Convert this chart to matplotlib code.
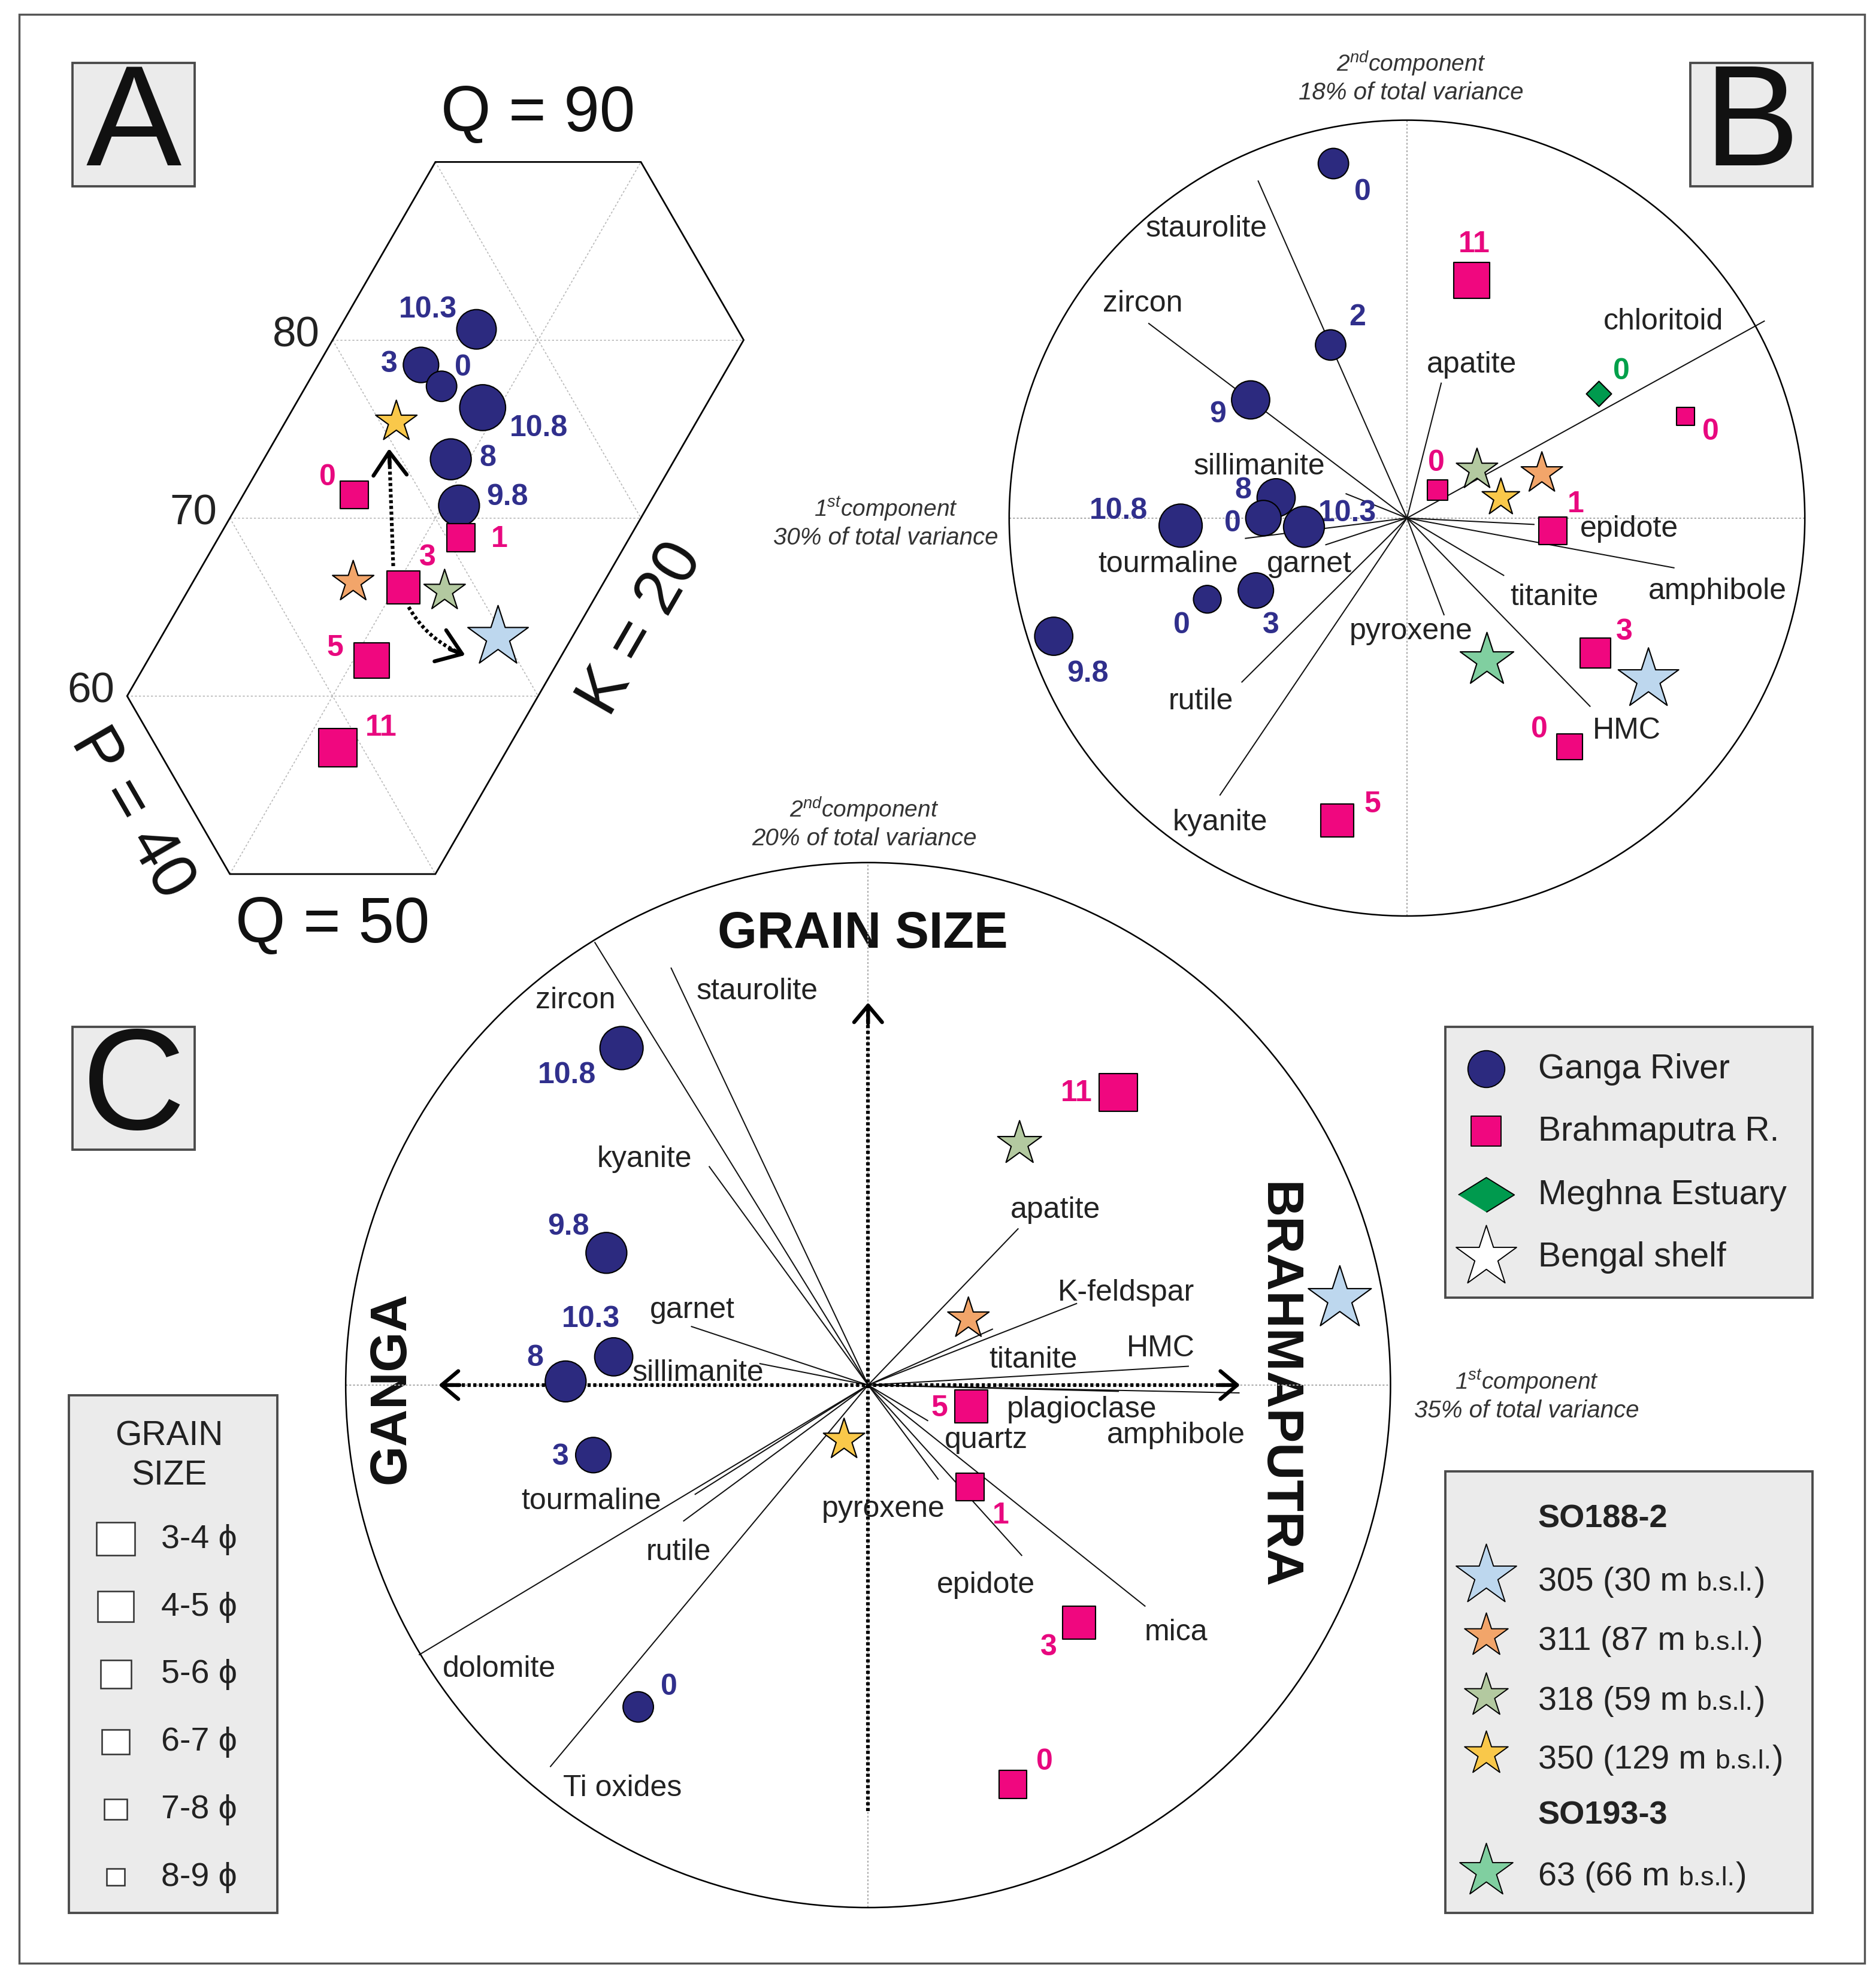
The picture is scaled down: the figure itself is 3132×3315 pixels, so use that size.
import numpy as np
import matplotlib
matplotlib.use('Agg')
import matplotlib.pyplot as plt
from matplotlib.patches import Rectangle, Circle, Polygon

plt.rcParams['font.family'] = ['Liberation Sans', 'DejaVu Sans']
plt.rcParams['mathtext.fontset'] = 'custom'
plt.rcParams['mathtext.rm'] = 'Liberation Sans'
plt.rcParams['mathtext.it'] = 'Liberation Sans:italic'
plt.rcParams['mathtext.bf'] = 'Liberation Sans:bold'

# ---------------- data ----------------
shelf_names = ['305', '311', '318', '350', '63']

# A: Q-K-P composition (%), grain size in phi
ganga_A_lab = ['10.3', '3', '0', '10.8', '8', '9.8']
ganga_A_Q = [80.6, 78.6, 77.4, 76.2, 73.3, 70.7]
ganga_A_K = [6.7, 5.0, 6.6, 9.2, 9.1, 10.8]
ganga_A_phi = [4.2, 5.1, 6.2, 2.8, 3.9, 3.9]
brahma_A_lab = ['0', '1', '3', '5', '11']
brahma_A_Q = [71.3, 68.9, 66.1, 62.0, 57.1]
brahma_A_K = [5.4, 11.8, 10.4, 10.9, 11.7]
brahma_A_phi = [6.0, 6.0, 4.75, 4.1, 3.5]
shelf_A_Q = [63.3, 66.4, 65.9, 75.4]
shelf_A_K = [16.4, 7.8, 12.5, 5.4]
shelf_A_phi = [3.4, 6.4, 6.4, 6.4]

# B: PCA biplot (PC1 30 %, PC2 18 %)
B_minerals = ['staurolite', 'zircon', 'sillimanite', 'tourmaline', 'garnet', 'rutile',
              'kyanite', 'pyroxene', 'HMC', 'titanite', 'amphibole', 'epidote',
              'chloritoid', 'apatite']
B_load_x = [-0.374, -0.649, -0.153, -0.406, -0.204, -0.415, -0.470, 0.093, 0.460,
            0.243, 0.671, 0.319, 0.898, 0.086]
B_load_y = [0.847, 0.489, 0.061, -0.051, -0.067, -0.412, -0.696, -0.243, -0.473,
            -0.144, -0.125, -0.016, 0.495, 0.339]
ganga_B_lab = ['0', '2', '9', '8', '0', '10.3', '10.8', '0', '3', '9.8']
ganga_B_x = [-0.185, -0.192, -0.393, -0.329, -0.361, -0.259, -0.569, -0.502, -0.380, -0.888]
ganga_B_y = [0.891, 0.435, 0.297, 0.051, 0.000, -0.022, -0.019, -0.204, -0.182, -0.297]
ganga_B_phi = [6.2, 6.2, 4.5, 4.5, 5.1, 3.9, 3.4, 6.8, 5.1, 4.5]
brahma_B_lab = ['11', '0', '0', '1', '3', '0', '5']
brahma_B_x = [0.163, 0.700, 0.077, 0.367, 0.473, 0.409, -0.176]
brahma_B_y = [0.597, 0.256, 0.070, -0.032, -0.339, -0.575, -0.760]
brahma_B_phi = [4.1, 8.5, 7.9, 6.0, 5.4, 6.6, 4.75]
meghna_B_lab = ['0']
meghna_B_x = [0.482]
meghna_B_y = [0.313]
shelf_B_x = [0.607, 0.339, 0.176, 0.236, 0.201]
shelf_B_y = [-0.406, 0.112, 0.121, 0.051, -0.358]
shelf_B_phi = [3.4, 6.4, 6.4, 7.0, 4.5]

# C: PCA biplot (PC1 35 %, PC2 20 %)
C_minerals = ['zircon', 'staurolite', 'kyanite', 'garnet', 'sillimanite', 'tourmaline',
              'rutile', 'dolomite', 'Ti oxides', 'pyroxene', 'quartz', 'plagioclase',
              'epidote', 'mica', 'amphibole', 'HMC', 'titanite', 'K-feldspar', 'apatite']
C_load_x = [-0.523, -0.377, -0.304, -0.338, -0.207, -0.331, -0.353, -0.859, -0.608,
            0.134, 0.114, 0.479, 0.294, 0.530, 0.710, 0.613, 0.238, 0.399, 0.287]
C_load_y = [0.847, 0.798, 0.418, 0.112, 0.041, -0.209, -0.260, -0.516, -0.730,
            -0.180, -0.068, -0.012, -0.326, -0.423, -0.015, 0.036, 0.107, 0.156, 0.299]
ganga_C_lab = ['10.8', '9.8', '10.3', '8', '3', '0']
ganga_C_x = [-0.472, -0.501, -0.487, -0.579, -0.526, -0.440]
ganga_C_y = [0.645, 0.253, 0.054, 0.007, -0.134, -0.616]
ganga_C_phi = [3.4, 3.9, 4.5, 3.9, 5.1, 6.2]
brahma_C_lab = ['11', '5', '1', '3', '0']
brahma_C_x = [0.479, 0.197, 0.195, 0.404, 0.277]
brahma_C_y = [0.560, -0.041, -0.195, -0.455, -0.764]
brahma_C_phi = [3.5, 4.75, 6.0, 4.75, 6.0]
shelf_C_x = [0.903, 0.192, 0.290, -0.046]
shelf_C_y = [0.165, 0.127, 0.462, -0.105]
shelf_C_phi = [3.0, 6.4, 6.0, 6.4]

grain_classes = ['3-4', '4-5', '5-6', '6-7', '7-8', '8-9']
shelf_depth = ['305 (30 m', '311 (87 m', '318 (59 m', '350 (129 m', '63 (66 m']

# ---------------- style ----------------
NAVY, NAVY_T = '#2c2a7f', '#302f8c'
PINK, PINK_T = '#f0077f', '#e8087f'
GREEN, GREEN_T = '#009a4e', '#00a04a'
STAR_C = {'305': '#bdd7ee', '311': '#f2a56a', '318': '#b3c9a0', '350': '#f9c84a', '63': '#80cfa0'}
BOXF, BOXE = '#ebebeb', '#4a4a4a'

DPX = 3132 / 1476          # output pixels per layout unit
PT = DPX * 72 / 100        # points per layout unit
W, H = 1476, 3316 / DPX


def pt(d):
    return d * PT


def side(phi):              # square side (layout units) for a grain size
    return 30 - 3.2 * (np.asarray(phi) - 3.5)


fig = plt.figure(figsize=(31.32, 33.16), dpi=100)
lay = fig.add_axes([0, 0, 1, 1])
lay.set_xlim(0, W)
lay.set_ylim(H, 0)
lay.axis('off')


def overlay(px, py, dx, dy, k):
    ax = fig.add_axes([0, 0, 1, 1])
    ax.set_xlim(dx - px / k, dx + (W - px) / k)
    ax.set_ylim(dy - (H - py) / k, dy + py / k)
    ax.axis('off')
    ax.patch.set_alpha(0)
    return ax


def box(x0, y0, x1, y1, fc=BOXF, lw=1.8):
    lay.add_patch(Rectangle((x0, y0), x1 - x0, y1 - y0, fc=fc, ec=BOXE, lw=pt(lw)))


def num_labels(ax, xs, ys, labs, offs, color):
    for x, y, s, (dx, dy) in zip(xs, ys, labs, offs):
        ax.annotate(s, (x, y), xytext=(pt(dx), pt(dy)), textcoords='offset points',
                    ha='center', va='center', fontsize=36, fontweight='bold', color=color)


def draw_points(ax, xs, ys, phi, marker, color, f=1.0, z=5):
    ax.scatter(xs, ys, s=pt(side(phi) * f) ** 2, marker=marker, c=color,
               edgecolors='k', linewidths=pt(1.0), zorder=z)


def chevron(ax, tip, direction, length, hl, hw):
    tip = np.asarray(tip, float)
    ax.annotate('', xy=tip, xytext=tip - length * np.asarray(direction, float),
                arrowprops=dict(arrowstyle=f'->,head_length={hl},head_width={hw}', color='k',
                                lw=pt(3.0), mutation_scale=40, shrinkA=0, shrinkB=0), zorder=3)


DOT = dict(color='k', lw=pt(2.9), ls=(0, (0.85, 0.7)), zorder=3)
MIN_FS = 36

# outer frame
lay.add_patch(Rectangle((15, 12), 1452, 1533, fc='none', ec='#555555', lw=pt(1.6)))

# panel letters
for (x0, y0), s in zip([(57, 50), (1330, 50), (57, 808)], ['A', 'B', 'C']):
    box(x0, y0, x0 + 96, y0 + 97)
    lay.text(x0 + 48, y0 + 51, s, ha='center', va='center', fontsize=172, color='#111111')

# ---------------- panel A ----------------
axA = overlay(100, 548, 30, 30 * np.sqrt(3), 16.17)


def tern(Q, K):
    Q = np.asarray(Q, float)
    K = np.asarray(K, float)
    return K + Q / 2, Q * np.sqrt(3) / 2


gcol = '#b8b8b8'
for q in (60, 70, 80):
    axA.plot(*tern([q, q], [0, 20]), color=gcol, lw=1.2, ls=(0, (2, 2)), zorder=1)
axA.plot(*tern([50, 90], [10, 10]), color=gcol, lw=1.2, ls=(0, (2, 2)), zorder=1)
for p in (10, 20, 30):
    axA.plot(*tern([100 - p, 80 - p], [0, 20]), color=gcol, lw=1.2, ls=(0, (2, 2)), zorder=1)
hx, hy = tern([90, 90, 80, 50, 50, 60], [0, 10, 20, 20, 10, 0])
axA.add_patch(Polygon(np.column_stack([hx, hy]), closed=True, fc='none', ec='k', lw=pt(1.3), zorder=2))

for q in (80, 70, 60):
    axA.annotate(str(q), tern(q, 0), xytext=(pt(-10), pt(4)), textcoords='offset points',
                 ha='right', va='center', fontsize=51, color='#222222')
axA.annotate('Q = 90', tern(90, 5), xytext=(0, pt(38)), textcoords='offset points',
             ha='center', va='center', fontsize=77, color='#111111')
axA.annotate('Q = 50', tern(50, 15), xytext=(0, pt(-40)), textcoords='offset points',
             ha='center', va='center', fontsize=77, color='#111111')
axA.annotate('K = 20', tern(65, 20), xytext=(pt(41), pt(-17)), textcoords='offset points',
             ha='center', va='center', fontsize=77, rotation=60, color='#111111')
axA.annotate('P = 40', tern(55, 5), xytext=(pt(-37), pt(-22)), textcoords='offset points',
             ha='center', va='center', fontsize=77, rotation=-60, color='#111111')

# dotted trend arrows (quadratic curves)
for (q0, k0, q1, k1, rad) in [(67.3, 9.3, 73.9, 5.8, 0.0), (65.0, 11.2, 62.3, 15.3, 0.18)]:
    p0 = np.array(tern(q0, k0))
    p1 = np.array(tern(q1, k1))
    d = p1 - p0
    ctrl = (p0 + p1) / 2 + rad * np.array([d[1], -d[0]])
    t = np.linspace(0, 0.93, 40)[:, None]
    curve = (1 - t) ** 2 * p0 + 2 * (1 - t) * t * ctrl + t ** 2 * p1
    axA.plot(curve[:, 0], curve[:, 1], **DOT)
    tan = (p1 - ctrl) / np.linalg.norm(p1 - ctrl)
    chevron(axA, p1, tan, 0.8, 0.7, 0.5)

gx, gy = tern(ganga_A_Q, ganga_A_K)
draw_points(axA, gx, gy, ganga_A_phi, 'o', NAVY, 1.12)
num_labels(axA, gx, gy, ganga_A_lab, [(-38, 16), (-25, 1), (17, 15), (44, -16), (29, 1), (38, 7)], NAVY_T)
bx, by = tern(brahma_A_Q, brahma_A_K)
draw_points(axA, bx, by, brahma_A_phi, 's', PINK)
num_labels(axA, bx, by, brahma_A_lab, [(-21, 14), (30, -1), (19, 24), (-29, 10), (34, 16)], PINK_T)
sx, sy = tern(shelf_A_Q, shelf_A_K)
draw_points(axA, sx, sy, shelf_A_phi, '*', [STAR_C[n] for n in shelf_names[:4]], 1.65, 6)


# ---------------- biplots ----------------
def biplot_frame(ax):
    ax.add_patch(Circle((0, 0), 1, fc='none', ec='k', lw=pt(1.2), zorder=2))
    ax.plot([-1, 1], [0, 0], color='#aaaaaa', lw=1.5, ls=(0, (1.5, 1.5)), zorder=1)
    ax.plot([0, 0], [-1, 1], color='#aaaaaa', lw=1.5, ls=(0, (1.5, 1.5)), zorder=1)


def loadings(ax, xs, ys, names, label_xy):
    for x, y, n, (lx, ly) in zip(xs, ys, names, label_xy):
        ax.plot([0, x], [0, y], color='#111111', lw=pt(0.95), zorder=3)
        ax.text(lx, ly, n, ha='center', va='center', fontsize=MIN_FS, color='#222222', zorder=4)


# panel B
axB = overlay(1107, 408, 0, 0, 313)
biplot_frame(axB)
B_lab_xy = [(-0.505, 0.728), (-0.665, 0.540), (-0.371, 0.131), (-0.601, -0.115),
            (-0.246, -0.115), (-0.518, -0.460), (-0.470, -0.764), (0.010, -0.284),
            (0.553, -0.534), (0.371, -0.198), (0.780, -0.182), (0.559, -0.026),
            (0.645, 0.495), (0.163, 0.387)]
loadings(axB, B_load_x, B_load_y, B_minerals, B_lab_xy)
draw_points(axB, ganga_B_x, ganga_B_y, ganga_B_phi, 'o', NAVY, 1.12)
num_labels(axB, ganga_B_x, ganga_B_y, ganga_B_lab,
           [(23, -22), (21, 22), (-26, -11), (-26, 6), (-24, -4), (34, 11), (-49, 12),
            (-20, -20), (12, -27), (27, -29)], NAVY_T)
draw_points(axB, brahma_B_x, brahma_B_y, brahma_B_phi, 's', PINK)
num_labels(axB, brahma_B_x, brahma_B_y, brahma_B_lab,
           [(2, 29), (20, -12), (-1, 22), (18, 21), (23, 17), (-24, 14), (28, 13)], PINK_T)
axB.scatter(meghna_B_x, meghna_B_y, s=pt(14) ** 2, marker='D', c=GREEN, edgecolors='k',
            linewidths=pt(1.0), zorder=5)
num_labels(axB, meghna_B_x, meghna_B_y, meghna_B_lab, [(18, 18)], GREEN_T)
draw_points(axB, shelf_B_x, shelf_B_y, shelf_B_phi, '*', [STAR_C[n] for n in shelf_names], 1.65, 6)

# panel C
axC = overlay(683, 1090, 0, 0, 411)
biplot_frame(axC)
C_lab_xy = [(-0.560, 0.737), (-0.212, 0.754), (-0.428, 0.433), (-0.336, 0.144),
            (-0.326, 0.024), (-0.530, -0.221), (-0.363, -0.319), (-0.706, -0.543),
            (-0.470, -0.771), (0.029, -0.236), (0.226, -0.105), (0.409, -0.046),
            (0.226, -0.382), (0.589, -0.472), (0.589, -0.095), (0.560, 0.071),
            (0.316, 0.049), (0.494, 0.178), (0.358, 0.336)]
loadings(axC, C_load_x, C_load_y, C_minerals, C_lab_xy)
axC.plot([-0.80, 0.69], [0, 0], **DOT)
axC.plot([0, 0], [-0.815, 0.71], **DOT)
chevron(axC, (-0.822, 0), (-1, 0), 0.04, 0.5, 0.42)
chevron(axC, (0.712, 0), (1, 0), 0.04, 0.5, 0.42)
chevron(axC, (0, 0.732), (0, 1), 0.04, 0.5, 0.42)
draw_points(axC, ganga_C_x, ganga_C_y, ganga_C_phi, 'o', NAVY, 1.12)
num_labels(axC, ganga_C_x, ganga_C_y, ganga_C_lab,
           [(-43, -21), (-30, 21), (-18, 30), (-24, 19), (-26, -1), (24, 16)], NAVY_T)
draw_points(axC, brahma_C_x, brahma_C_y, brahma_C_phi, 's', PINK)
num_labels(axC, brahma_C_x, brahma_C_y, brahma_C_lab,
           [(-33, 0), (-25, -1), (24, -22), (-24, -19), (25, 18)], PINK_T)
draw_points(axC, shelf_C_x, shelf_C_y, shelf_C_phi, '*', [STAR_C[n] for n in shelf_names[:4]], 1.65, 6)

lay.text(679, 735, 'GRAIN SIZE', ha='center', va='center', fontsize=61, fontweight='bold', color='#111111')
lay.text(308, 1092, 'GANGA', ha='center', va='center', fontsize=62, fontweight='bold',
         rotation=90, color='#111111')
lay.text(1005, 1090, 'BRAHMAPUTRA', ha='center', va='center', fontsize=62, fontweight='bold',
         rotation=-90, color='#111111')

# component captions
for (x, y), n, v in [((1110, 50), '2$^{nd}$component', '18% of total variance'),
                     ((697, 400), '1$^{st}$component', '30% of total variance'),
                     ((680, 637), '2$^{nd}$component', '20% of total variance'),
                     ((1201, 1087), '1$^{st}$component', '35% of total variance')]:
    lay.text(x, y, n, ha='center', va='center', fontsize=28, style='italic', color='#333333')
    lay.text(x, y + 23, v, ha='center', va='center', fontsize=29, style='italic', color='#333333')

# ---------------- legends ----------------
box(1137, 808, 1426, 1021)
leg1 = ['Ganga River', 'Brahmaputra R.', 'Meghna Estuary', 'Bengal shelf']
leg1_y = [841, 890, 940, 989]
lay.scatter([1169], [leg1_y[0]], s=pt(29) ** 2, marker='o', c=NAVY, edgecolors='k', linewidths=pt(0.9))
lay.scatter([1169], [leg1_y[1]], s=pt(24) ** 2, marker='s', c=PINK, edgecolors='k', linewidths=pt(0.9))
lay.scatter([1169], [leg1_y[2]], s=pt(44) ** 2, marker=[(-1, 0), (0, 0.62), (1, 0), (0, -0.62)],
            c=GREEN, edgecolors='k', linewidths=pt(0.9))
lay.scatter([1169], [leg1_y[3]], s=pt(50) ** 2, marker='*', c='white', edgecolors='k', linewidths=pt(0.9))
for s, y in zip(leg1, leg1_y):
    lay.text(1210, y, s, ha='left', va='center', fontsize=41, color='#222222')

box(1137, 1158, 1426, 1505)
lay.text(1210, 1195, 'SO188-2', ha='left', va='center', fontsize=39, fontweight='bold', color='#222222')
lay.text(1210, 1428, 'SO193-3', ha='left', va='center', fontsize=39, fontweight='bold', color='#222222')
leg2_y = [1240, 1287, 1334, 1380, 1472]
leg2_d = [50, 36, 36, 36, 44]
renderer = fig.canvas.get_renderer()
inv = lay.transData.inverted()
for n, s, y, d in zip(shelf_names, shelf_depth, leg2_y, leg2_d):
    lay.scatter([1169], [y], s=pt(d) ** 2, marker='*', c=STAR_C[n], edgecolors='k', linewidths=pt(0.9))
    base = y + 11
    t = lay.text(1210, base, s, ha='left', va='baseline', fontsize=40, color='#222222')
    x1 = inv.transform(t.get_window_extent(renderer))[1, 0]
    t2 = lay.text(x1 + 7, base, 'b.s.l.', ha='left', va='baseline', fontsize=32, color='#222222')
    x2 = inv.transform(t2.get_window_extent(renderer))[1, 0]
    lay.text(x2 + 1, base, ')', ha='left', va='baseline', fontsize=40, color='#222222')

box(54, 1098, 218, 1505)
lay.text(133, 1130, 'GRAIN', ha='center', va='center', fontsize=41, color='#222222')
lay.text(133, 1161, 'SIZE', ha='center', va='center', fontsize=41, color='#222222')
sq_w = [30, 28, 24, 22, 18, 14]
sq_h = [26, 24, 22, 19, 16, 13]
for i, (g, w, h) in enumerate(zip(grain_classes, sq_w, sq_h)):
    y = 1211 + 53.2 * i
    lay.add_patch(Rectangle((91 - w / 2, y - h / 2), w, h, fc='white', ec='#333333', lw=pt(1.2)))
    lay.text(127, y, g + ' \u03d5', ha='left', va='center', fontsize=40, color='#222222')

fig.savefig('out.png', dpi=100)
